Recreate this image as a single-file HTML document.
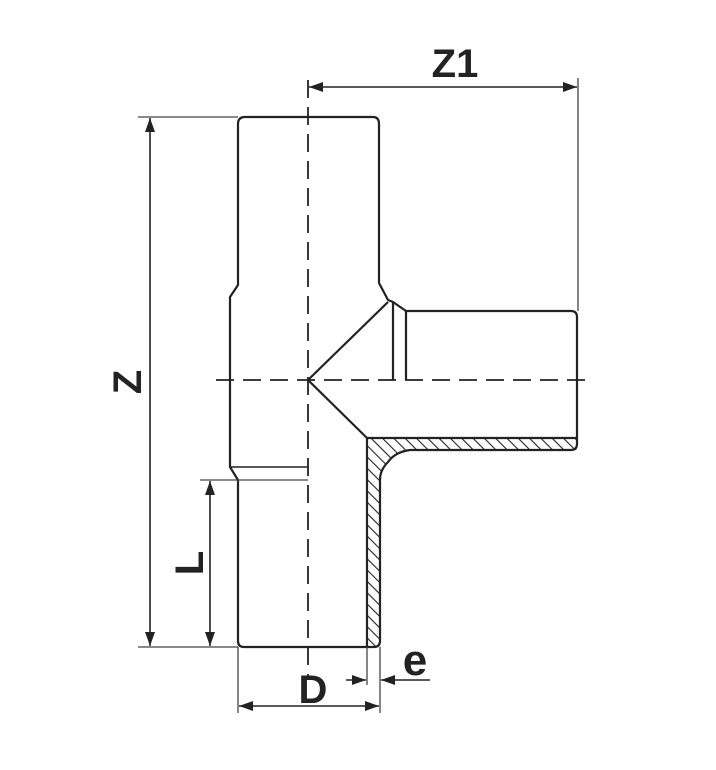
<!DOCTYPE html>
<html><head><style>html,body{margin:0;padding:0;background:#fff}svg{display:block}</style></head>
<body>
<svg width="716" height="770" viewBox="0 0 716 770" xmlns="http://www.w3.org/2000/svg">
<defs>
<pattern id="h" width="8" height="8" patternUnits="userSpaceOnUse" patternTransform="rotate(-45)">
<line x1="0" y1="0" x2="0" y2="8" stroke="#222" stroke-width="2.2"/>
</pattern>
<marker id="a" markerWidth="14" markerHeight="10" refX="14" refY="5" orient="auto" markerUnits="userSpaceOnUse">
<path d="M0,0 L14,5 L0,10 Z" fill="#222"/></marker>
</defs>
<g fill="none" stroke="#222" stroke-width="2.2" stroke-linejoin="round">
<path d="M367,438 L577,438 L577,450 L410,450 Q395,452 388,462 Q380,470 380,480 L380,647 L367,647 Z" fill="url(#h)" stroke="none"/>
<path d="M238,285 L238,124 Q238,117 245,117 L373,117 Q379,117 379,124 L379,283 L388,300 L393,302 L406,311 L571,311 Q577,311 577,317 L577,444 Q577,450 571,450 L410,450 Q395,452 388,462 Q380,470 380,480 L380,641 Q380,647 374,647 L244,647 Q238,647 238,641 L238,480 L230,467 L230,297 Z"/>
<line x1="367" y1="438" x2="577" y2="438"/>
<line x1="367" y1="438" x2="367" y2="647"/>
<path d="M388,302 L308,380 L367,438"/>
<line x1="393" y1="302" x2="393" y2="380"/>
<line x1="406" y1="311" x2="406" y2="380"/>
<line x1="230" y1="467" x2="308" y2="467" stroke-width="1.5"/>
</g>
<g stroke="#222" stroke-width="1.8" stroke-dasharray="18,9" fill="none">
<line x1="308" y1="80" x2="308" y2="680"/>
<line x1="216" y1="380" x2="585" y2="380"/>
</g>
<g stroke="#444" stroke-width="1.3" fill="none">
<line x1="138" y1="117" x2="238" y2="117"/>
<line x1="138" y1="647" x2="238" y2="647"/>
<line x1="200" y1="480" x2="308" y2="480"/>
<line x1="578" y1="78" x2="578" y2="311"/>
<line x1="238" y1="647" x2="238" y2="713"/>
<line x1="380" y1="647" x2="380" y2="713"/>
<line x1="367" y1="647" x2="367" y2="685"/>
</g>
<g stroke="#222" stroke-width="1.6" fill="none">
<line x1="150" y1="380" x2="150" y2="118" marker-end="url(#a)"/>
<line x1="150" y1="380" x2="150" y2="646" marker-end="url(#a)"/>
<line x1="210" y1="560" x2="210" y2="481" marker-end="url(#a)"/>
<line x1="210" y1="560" x2="210" y2="646" marker-end="url(#a)"/>
<line x1="440" y1="87" x2="309" y2="87" marker-end="url(#a)"/>
<line x1="440" y1="87" x2="577" y2="87" marker-end="url(#a)"/>
<line x1="310" y1="706" x2="239" y2="706" marker-end="url(#a)"/>
<line x1="310" y1="706" x2="379" y2="706" marker-end="url(#a)"/>
<line x1="346" y1="680" x2="366" y2="680" marker-end="url(#a)"/>
<line x1="430" y1="680" x2="381" y2="680" marker-end="url(#a)"/>
</g>
<g font-family="Liberation Sans, sans-serif" font-weight="bold" fill="#222">
<text x="455" y="77" font-size="40" text-anchor="middle">Z1</text>
<text x="313" y="703" font-size="40" text-anchor="middle">D</text>
<text x="415" y="675" font-size="44" text-anchor="middle">e</text>
<text transform="translate(141,382) rotate(-90)" font-size="40" text-anchor="middle">Z</text>
<text transform="translate(203,563) rotate(-90)" font-size="40" text-anchor="middle">L</text>
</g>
</svg>
</body></html>
